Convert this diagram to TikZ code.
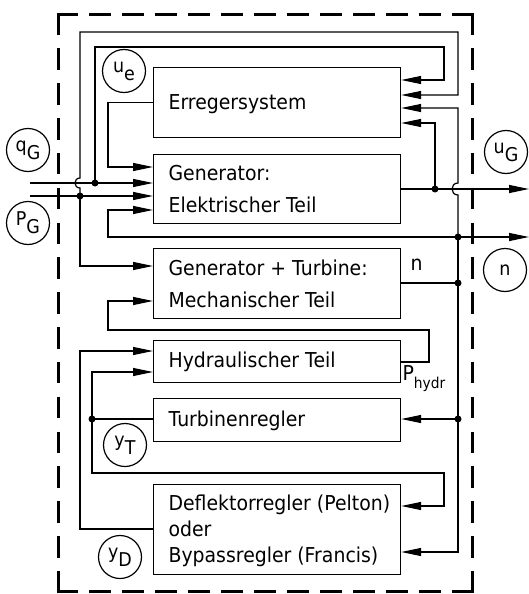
\documentclass[tikz,border=0pt]{standalone}
\usepackage{fontspec}
\setmainfont{DejaVu Sans}[FakeStretch=0.92]
\usetikzlibrary{arrows.meta,calc}
\newcommand\circlab[2]{#1\raisebox{-8pt}{#2}}
\begin{document}
\begin{tikzpicture}[x=1pt,y=-1pt,line width=1.2pt,
  box/.style={draw,rectangle,anchor=north west,inner sep=0pt,minimum width=247pt},
  txt/.style={anchor=base west,inner sep=0pt,font=\fontsize{20.5}{24}\selectfont},
  circ/.style={draw,circle,minimum size=43pt,inner sep=0pt,font=\fontsize{19}{19}\selectfont},
  arr/.style={-{Triangle[length=20pt,width=8pt]}},
  dot/.style={circle,fill,inner sep=0pt,minimum size=7pt},
  frame/.style={line width=3pt}]
\useasboundingbox (0,0) rectangle (529,594);
% frame
\draw[frame,dash pattern=on 21.5pt off 11.46pt] (56.5,15) -- (473.5,15);
\draw[frame,dash pattern=on 21.5pt off 11.46pt] (56.5,591) -- (473.5,591);
\draw[frame,dash pattern=on 21.5pt off 13.34pt] (58,13.5) -- (58,592.5);
\draw[frame,dash pattern=on 21.5pt off 13.34pt] (472,13.5) -- (472,592.5);
% boxes
\node[box,minimum height=70pt] (E) at (153,67) {};
\node[box,minimum height=69pt] (G) at (153,154) {};
\node[box,minimum height=70pt] (M) at (153,248) {};
\node[box,minimum height=42pt] (H) at (153,340) {};
\node[box,minimum height=43pt] (T) at (153,398) {};
\node[box,minimum height=90pt] (D) at (153,484) {};
% texts
\node[txt] (tE) at (168,109) {Erregersystem};
\node[txt] (tG1) at (168,180) {Generator:};
\node[txt] (tG2) at (168,212) {Elektrischer Teil};
\node[txt] (tM1) at (168,275) {Generator + Turbine:};
\node[txt] (tM2) at (168,307) {Mechanischer Teil};
\node[txt] (tH) at (168,367) {Hydraulischer Teil};
\node[txt] (tT) at (168,426) {Turbinenregler};
\node[txt] (tD1) at (168,510) {Deflektorregler (Pelton)};
\node[txt] (tD2) at (168,536) {oder};
\node[txt] (tD3) at (168,562) {Bypassregler (Francis)};
\node[txt] (ln) at (410,270) {n};
\node[txt] (lp) at (402,380) {P\raisebox{-8pt}{\fontsize{15}{15}\selectfont hydr}};
% circles
\node[circ] (ue) at (124,71) {\circlab{u}{e}};
\node[circ] (qG) at (28,150) {\circlab{q}{G}};
\node[circ] (PG) at (28,223) {\circlab{P}{G}};
\node[circ] (uG) at (506,152) {\circlab{u}{G}};
\node[circ] (nc) at (505,270) {n};
\node[circ] (yT) at (125,445) {\circlab{y}{T}};
\node[circ] (yD) at (120,557) {\circlab{y}{D}};
% coordinates
\coordinate (qin) at (30,183);
\coordinate (pin) at (30,196);
\coordinate (jq) at (95,183);
\coordinate (jp) at (80,196);
\coordinate (ju) at (435,189);
\coordinate (jn1) at (458,237);
\coordinate (jn2) at (458,283);
\coordinate (jn3) at (458,419);
\coordinate (jt) at (92,419);
\coordinate (uout) at (529,189);
\coordinate (nout) at (529,237);
% connectors
\draw[arr] (qin) -- (G.west |- qin);
\draw[arr] (pin) -- (G.west |- pin);
\draw[arr] (jq) |- (444,47) -- (444,80) -- ($(E.north east)+(0,13)$);
\draw[arr] (jp) -- (80,188) .. controls (73.3,188) and (73.3,178) .. (80,178)
  -- (80,32) -- (458,32) -- (458,95) -- ($(E.north east)+(0,28)$);
\draw[arr] (jp) |- ($(M.north west)+(0,18)$);
\draw[arr] (E.west) -| (108,167) -- ($(G.north west)+(0,13)$);
\draw[arr] (jn1) -- (108,237) |- ($(G.north west)+(0,56)$);
\draw[arr] (jn1) -- (nout);
\draw[arr] ($(G.north east)+(0,35)$) -- (ju) -- (uout);
\draw[arr] (ju) -- (435,123) -- ($(E.north east)+(0,56)$);
\draw[arr] (jn1) -- (458,195) .. controls (450,195) and (450,183) .. (458,183)
  -- (458,108) -- ($(E.north east)+(0,41)$);
\draw[arr] (jn1) -- (458,552) -- ($(D.north east)+(0,68)$);
\draw ($(M.north east)+(0,35)$) -- (jn2);
\draw[arr] (jn3) -- ($(T.north east)+(0,21)$);
\draw[arr] ($(T.north west)+(0,21)$) -- (jt) -- (92,372) -- ($(H.north west)+(0,32)$);
\draw[arr] (jt) -- (92,473) -- (444,473) -- (444,506) -- ($(D.north east)+(0,22)$);
\draw[arr] ($(D.north west)+(0,45)$) -- (80,529) -- (80,351) -- ($(H.north west)+(0,11)$);
\draw[arr] ($(H.north east)+(0,22)$) -- (429,362) -- (429,330) -- (108,330) -- (108,301)
  -- ($(M.north west)+(0,53)$);
% dots
\node[dot] (dq) at (jq) {};
\node[dot] (dp) at (jp) {};
\node[dot] (du) at (ju) {};
\node[dot] (dn1) at (jn1) {};
\node[dot] (dn2) at (jn2) {};
\node[dot] (dn3) at (jn3) {};
\node[dot] (dt) at (jt) {};
\end{tikzpicture}
\end{document}
